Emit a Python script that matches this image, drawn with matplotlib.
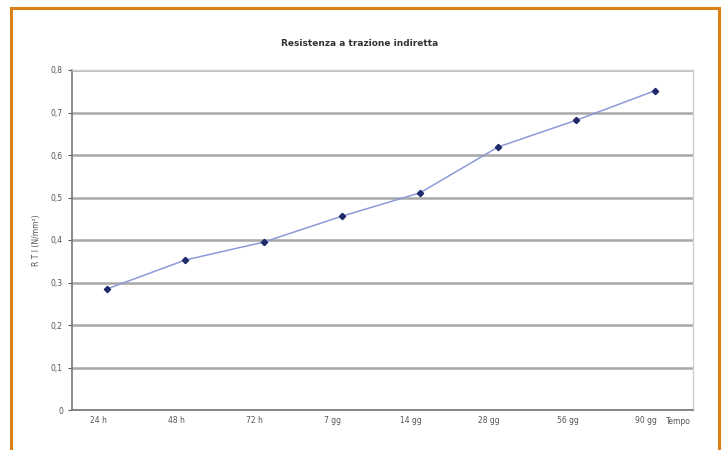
import matplotlib.pyplot as plt
import matplotlib.transforms as mtransforms
from matplotlib.patches import Rectangle

# Resistenza a trazione indiretta nel tempo
tempi = ["24 h", "48 h", "72 h", "7 gg", "14 gg", "28 gg", "56 gg", "90 gg"]
rti = [0.285, 0.353, 0.395, 0.456, 0.511, 0.619, 0.682, 0.751]
y_ticks = [0, 0.1, 0.2, 0.3, 0.4, 0.5, 0.6, 0.7, 0.8]

fig = plt.figure(figsize=(7.26, 4.5), dpi=100)
fig.patch.set_facecolor("white")

# orange frame around the figure
fig.patches.append(Rectangle((11 / 726, -0.05), 708 / 726, 1.05 - 8 / 450,
                             transform=fig.transFigure, fill=False,
                             edgecolor="#d9801a", linewidth=2.2))

ax = fig.add_axes([72 / 726, 1 - 410 / 450, 621 / 726, 340 / 450])
x = list(range(len(tempi)))
ax.plot(x, rti, color="#8c9ad8", linewidth=1.1, zorder=3)
ax.plot(x, rti, linestyle="none", marker="D", markersize=3.2,
        color="#1f2a6b", zorder=4)

ax.set_xlim(-0.45, 7.49)
ax.set_ylim(0, 0.8)
ax.set_yticks(y_ticks)
ax.set_yticklabels(["0" if v == 0 else f"{v:.1f}".replace(".", ",") for v in y_ticks])
ax.set_xticks(x)
ax.set_xticklabels(tempi)
ax.tick_params(axis="both", labelsize=5.5, colors="#555555", length=3, width=0.8)
ax.tick_params(axis="x", length=0, pad=4)

# category labels sit a little left of their points
shift = mtransforms.ScaledTranslation(-9 / 100, 0, fig.dpi_scale_trans)
for lbl in ax.get_xticklabels():
    lbl.set_transform(lbl.get_transform() + shift)

ax.yaxis.grid(True, color="#a8a8a8", linewidth=1.8)
ax.set_axisbelow(True)
for side in ("top", "right"):
    ax.spines[side].set_color("#cfcfcf")
    ax.spines[side].set_linewidth(1.0)
for side in ("left", "bottom"):
    ax.spines[side].set_color("#777777")
    ax.spines[side].set_linewidth(1.2)

fig.text(360 / 726, 1 - 43 / 450, "Resistenza a trazione indiretta",
         ha="center", va="center", fontsize=6.5, fontweight="bold", color="#333333")
fig.text(37 / 726, 1 - 240 / 450, "R T I (N/mm²)", rotation=90,
         ha="center", va="center", fontsize=5.5, color="#555555")
fig.text(678 / 726, 1 - 422 / 450, "Tempo", ha="center", va="center",
         fontsize=5.5, color="#555555")

fig.savefig("out.png", dpi=100)
